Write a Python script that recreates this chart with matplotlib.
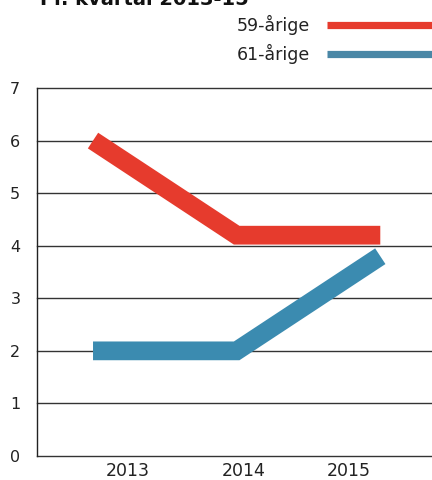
import matplotlib.pyplot as plt
from matplotlib.lines import Line2D

# data
years = ['2013', '2014', '2015']
age59 = [6.0, 4.2, 4.2]
age61 = [2.0, 2.0, 3.8]
series_names = ['59-årige', '61-årige']

red = '#e63b2d'
blue = '#3b8bb0'
legend_blue = '#4a87a6'

plt.rcParams['font.family'] = ['DejaVu Sans']

fig = plt.figure(figsize=(4.32, 4.8), dpi=100)
ax = fig.add_axes([37 / 432, 1 - 456 / 480, 1 - 37 / 432, 368 / 480])

xs = list(range(len(years)))
ax.plot(xs, age59, color=red, linewidth=13.5, solid_capstyle='butt',
        solid_joinstyle='miter', zorder=3)
ax.plot(xs, age61, color=blue, linewidth=13.5, solid_capstyle='butt',
        solid_joinstyle='miter', zorder=3)

ax.set_xlim(-0.39, 2.36)
ax.set_ylim(0, 7)
ax.set_yticks(range(0, 8))
ax.tick_params(axis='y', length=0, pad=12, labelsize=11.5, colors='#222222')
ax.set_xticks([0.24, 1.05, 1.78])
ax.set_xticklabels(years)
ax.tick_params(axis='x', length=0, pad=4, labelsize=12.5, colors='#222222')

for y in range(0, 8):
    ax.axhline(y, color='#333333', linewidth=1, zorder=1, clip_on=False)

for s in ['top', 'right', 'bottom']:
    ax.spines[s].set_visible(False)
ax.spines['left'].set_color('#222222')
ax.spines['left'].set_linewidth(1)

# title (partly cut off at the top, as in the source)
fig.text(40 / 432, 1 - 5 / 480, 'Pr. kvartal 2013-15', fontsize=14,
         fontweight='bold', ha='left', va='baseline', color='#111111')

# legend drawn by hand at top right
for i, (name, col) in enumerate(zip(series_names, [red, legend_blue])):
    yy = 1 - (25 + 29 * i) / 480
    fig.text(310 / 432, yy, name, fontsize=12.5, ha='right', va='center',
             color='#222222')
    fig.add_artist(Line2D([327 / 432, 1.0], [yy, yy], color=col,
                          linewidth=5.2, solid_capstyle='butt',
                          transform=fig.transFigure))

fig.savefig('out.png', dpi=100)
